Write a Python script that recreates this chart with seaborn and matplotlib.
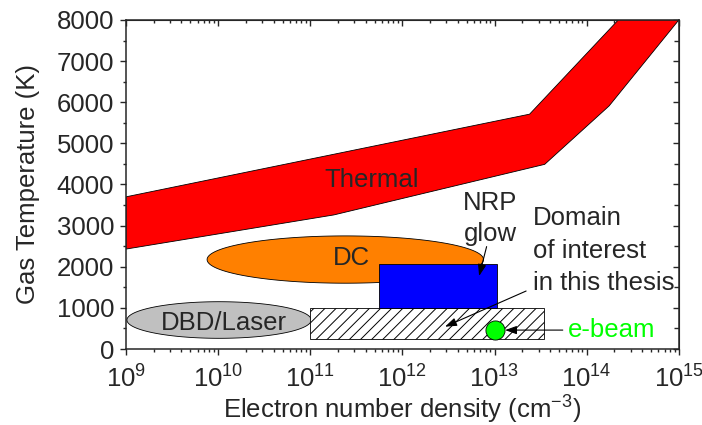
import numpy as np
import pandas as pd
import seaborn as sns
import matplotlib.pyplot as plt
from matplotlib.ticker import AutoMinorLocator, LogLocator, MultipleLocator

# thermal band edges (electron density cm^-3, gas temperature K)
thermal_upper_n = [1e9, 2.4e13, 2.2e14]
thermal_upper_T = [3700, 5710, 8000]
thermal_lower_n = [1e9, 1.8e11, 3.5e13, 1.75e14, 1e15]
thermal_lower_T = [2430, 3260, 4490, 5910, 8000]

# ellipses: log10(n) centre, half-width (decades), T centre, half-height
dc_ellipse = [11.38, 1.5, 2175, 575]
dbd_ellipse = [10.01, 1.0, 705, 445]

# boxes: n_min, n_max, T_min, T_max
nrp_box = [5.6e11, 1.05e13, 1000, 2070]
domain_box = [1e11, 3.4e13, 240, 1000]

# e-beam point
ebeam = pd.DataFrame({'n': [1.0e13], 'T': [460]})

sns.set_style('ticks')
plt.rcParams['font.family'] = ['Liberation Sans', 'DejaVu Sans']
plt.rcParams['mathtext.fontset'] = 'custom'
plt.rcParams['mathtext.rm'] = 'Liberation Sans'
plt.rcParams['mathtext.it'] = 'Liberation Sans:italic'
plt.rcParams['hatch.linewidth'] = 0.7

fig, ax = plt.subplots(figsize=(7.02, 4.25), dpi=100)
fig.subplots_adjust(left=0.1795, right=0.967, bottom=0.1788, top=0.953)
ax.set_xscale('log')
ax.set_xlim(1e9, 1e15)
ax.set_ylim(0, 8000)

# thermal band
band_n = thermal_upper_n + thermal_lower_n[::-1]
band_T = thermal_upper_T + thermal_lower_T[::-1]
ax.fill(band_n, band_T, facecolor='#ff0000', edgecolor='black', lw=0.6, zorder=2)


def ellipse(params):
    c, a, t, b = params
    th = np.linspace(0, 2 * np.pi, 300)
    return 10 ** (c + a * np.cos(th)), t + b * np.sin(th)


def box(params):
    n0, n1, t0, t1 = params
    return [n0, n1, n1, n0], [t0, t0, t1, t1]


x, y = ellipse(dc_ellipse)
ax.fill(x, y, facecolor='#ff8000', edgecolor='black', lw=0.6, zorder=3)
x, y = ellipse(dbd_ellipse)
ax.fill(x, y, facecolor='#c0c0c0', edgecolor='black', lw=0.6, zorder=3)
x, y = box(domain_box)
ax.fill(x, y, facecolor='white', edgecolor='black', hatch='///', lw=0.6, zorder=4)
x, y = box(nrp_box)
ax.fill(x, y, facecolor='#0000ff', edgecolor='black', lw=0.6, zorder=4)

sns.scatterplot(data=ebeam, x='n', y='T', ax=ax, s=190, color='#00ff00',
                edgecolor='black', linewidth=0.6, zorder=6, legend=False)

fs = 18.5
ax.text(4.6e11, 3940, 'Thermal', fontsize=fs, ha='center', va='baseline', zorder=7)
ax.text(2.8e11, 2040, 'DC', fontsize=fs, ha='center', va='baseline', zorder=7)
ax.text(1.14e10, 460, 'DBD/Laser', fontsize=fs, ha='center', va='baseline', zorder=7)
ax.text(9.0e12, 3380, 'NRP', fontsize=fs, ha='center', va='baseline', zorder=7)
ax.text(9.0e12, 2620, 'glow', fontsize=fs, ha='center', va='baseline', zorder=7)
ax.text(2.6e13, 3017, 'Domain', fontsize=fs, ha='left', va='baseline', zorder=7)
ax.text(2.6e13, 2207, 'of interest', fontsize=fs, ha='left', va='baseline', zorder=7)
ax.text(2.6e13, 1435, 'in this thesis', fontsize=fs, ha='left', va='baseline', zorder=7)
ax.text(6.2e13, 300, 'e-beam', fontsize=fs, color='#00ff00', ha='left', va='baseline', zorder=7)

arrow = dict(arrowstyle='-|>,head_length=0.7,head_width=0.25', color='black', lw=0.8,
             shrinkA=0, shrinkB=0)
ax.annotate('', xy=(1.3e13, 460), xytext=(5.5e13, 460), arrowprops=arrow, zorder=8)
ax.annotate('', xy=(6.8e12, 1776), xytext=(8.2e12, 2490), arrowprops=arrow, zorder=8)
ax.annotate('', xy=(2.9e12, 543), xytext=(2.2e13, 1410), arrowprops=arrow, zorder=8)

ax.set_xlabel('Electron number density (cm$^{-3}$)', fontsize=fs, labelpad=1)
ax.set_ylabel('Gas Temperature (K)', fontsize=fs, labelpad=12)

ax.xaxis.set_major_locator(LogLocator(base=10, numticks=10))
ax.xaxis.set_minor_locator(LogLocator(base=10, subs=np.arange(2, 10), numticks=100))
ax.yaxis.set_major_locator(MultipleLocator(1000))
ax.yaxis.set_minor_locator(AutoMinorLocator(2))
ax.tick_params(which='both', direction='out', width=1.0, labelsize=fs, pad=4)
ax.tick_params(axis='x', which='both', pad=7)
ax.tick_params(which='major', length=4.5)
ax.tick_params(which='minor', length=2.5)

top = ax.secondary_xaxis('top')
top.xaxis.set_minor_locator(LogLocator(base=10, subs=np.arange(2, 10), numticks=100))
top.tick_params(which='both', direction='in', labeltop=False, width=1.0)
top.tick_params(which='major', length=4.5)
top.tick_params(which='minor', length=2.5)
right = ax.secondary_yaxis('right')
right.yaxis.set_major_locator(MultipleLocator(1000))
right.yaxis.set_minor_locator(AutoMinorLocator(2))
right.tick_params(which='both', direction='in', labelright=False, width=1.0)
right.tick_params(which='major', length=4.5)
right.tick_params(which='minor', length=3.5)

for s in ax.spines.values():
    s.set_linewidth(1.1)
    s.set_visible(True)

fig.savefig('out.png', dpi=100)
